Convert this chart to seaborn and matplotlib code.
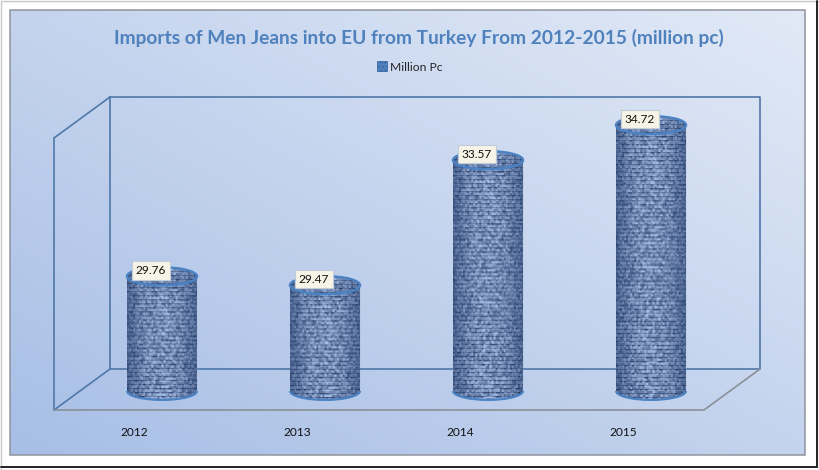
import numpy as np
import seaborn as sns
import matplotlib.pyplot as plt
from matplotlib.patches import Arc, Ellipse, Rectangle
from matplotlib.path import Path
from matplotlib.transforms import ScaledTranslation

years = ['2012', '2013', '2014', '2015']
values = [29.76, 29.47, 33.57, 34.72]
title = 'Imports of Men Jeans into EU from Turkey From 2012-2015 (million pc)'
series_name = 'Million Pc'

sns.set_theme(style='white')
plt.rcParams['font.family'] = ['Lato', 'DejaVu Sans']

W, H = 820, 470
fig = plt.figure(figsize=(W / 100, H / 100), dpi=100, facecolor='white')


def frac_box(left, top, right, bottom):
    return [left / W, 1 - bottom / H, (right - left) / W, (bottom - top) / H]


# Background panel + fake 3D walls, all in pixel coords
bg = fig.add_axes([0, 0, 1, 1], zorder=0)
bg.set_xlim(0, W)
bg.set_ylim(H, 0)
bg.axis('off')

gx, gy = np.meshgrid(np.linspace(0, 1, 200), np.linspace(0, 1, 120))
t = np.clip((gx + (1 - gy)) / 2, 0, 1)[..., None]
dark = np.array([0.655, 0.745, 0.90])
light = np.array([0.885, 0.915, 0.965])
bg.imshow(dark + (light - dark) * t, extent=(10, 805, 455, 10), aspect='auto', zorder=1)
bg.set_xlim(0, W)
bg.set_ylim(H, 0)
bg.add_patch(Rectangle((10, 10), 795, 445, fill=False, ec='#8f949c', lw=1.1, zorder=2))
bg.plot([817, 817], [1, 467], color='#222222', lw=1.4, zorder=2)
bg.plot([1, 817], [467, 467], color='#222222', lw=1.4, zorder=2)
bg.add_patch(Rectangle((0.5, 0.5), 819, 469, fill=False, ec='#c8c8c8', lw=1, zorder=1.5))

wall = '#4f78a8'
floor = '#8a9099'
bg.plot([110, 760, 760, 110, 110], [97, 97, 369, 369, 97], color=wall, lw=1.2, zorder=3)
bg.plot([54, 110], [138, 97], color=wall, lw=1.2, zorder=3)
bg.plot([54, 54], [138, 410], color=wall, lw=1.2, zorder=3)
bg.plot([54, 110], [410, 369], color=wall, lw=1.2, zorder=3)
bg.plot([54, 704, 760], [410, 410, 369], color=floor, lw=1.2, zorder=3)

# The chart itself: 4 bars on a truncated value axis
ax = fig.add_axes(frac_box(80.5, 90, 732.5, 412), zorder=1)
ax.patch.set_alpha(0)
sns.barplot(x=years, y=values, color='#4f81bd', width=0.43, label=series_name, ax=ax)
ymin, ymax = 25.31, 35.87
xmin, xmax = -0.5, 3.5
ry = 9 / 30.5
base = 26


# Woven jeans look: blocks in rows, lighter in the middle of the cylinder
def weave(nx, ny):
    jj, ii = np.meshgrid(np.arange(nx), np.arange(ny))
    ci, cj = ii // 2, jj // 2
    h = np.sin(ci * 12.9898 + cj * 78.233) * 43758.5453
    speck = h - np.floor(h)
    rows = (ii % 4 != 0) * 1.0
    cols = ((jj + 2 * (ii // 4)) % 5 != 0) * 1.0
    tone = 0.55 * speck + 0.32 * rows + 0.13 * cols
    shade = 0.42 + 0.62 * np.sin(np.linspace(0.15, np.pi - 0.15, nx))[None, :]
    tone = np.clip(tone * shade, 0, 1)[..., None]
    lo = np.array([0.10, 0.20, 0.38])
    hi = np.array([0.66, 0.75, 0.90])
    return lo + (hi - lo) * tone


for bar, val in zip(list(ax.patches), values):
    x0 = bar.get_x()
    w = bar.get_width()
    cx = x0 + w / 2
    a = np.linspace(np.pi, 2 * np.pi, 40)
    low = np.c_[cx + w / 2 * np.cos(a), base + ry * np.sin(a)]
    top = np.c_[cx + w / 2 * np.cos(a - np.pi), val + ry * np.sin(a - np.pi)]
    verts = np.r_[low, top, low[:1]]
    body = Path(verts, closed=True)
    ny = int((val - base + 2 * ry) * 30.5)
    im = ax.imshow(weave(70, ny), extent=(x0, x0 + w, base - ry, val + ry),
                   aspect='auto', interpolation='bilinear', zorder=3)
    im.set_clip_path(body, transform=ax.transData)
    bar.set_clip_path(body, transform=ax.transData)
    ax.add_patch(Ellipse((cx, val), w, 2 * ry, fill=False, ec='#4a82c4', lw=1.7, zorder=4))
    ax.add_patch(Arc((cx, base), w, 2 * ry, theta1=180, theta2=360, ec='#4a82c4', lw=1.5, zorder=4))
    ax.annotate(f'{val:.2f}', (cx, val), xytext=(-11 * 0.72, 6 * 0.72), textcoords='offset points',
                ha='center', va='center', fontsize=8.6, color='#111111', zorder=5,
                bbox=dict(boxstyle='square,pad=0.32', fc='#f6f4e6', ec='#c2ccd8', lw=0.8))

ax.set_xlim(xmin, xmax)
ax.set_ylim(ymin, ymax)
ax.set_xlabel('')
ax.set_ylabel('')
ax.set_yticks([])
sns.despine(ax=ax, left=True, bottom=True)
ax.tick_params(axis='x', length=0, pad=11, labelsize=8.6, labelcolor='#111111')
for lab in ax.get_xticklabels():
    lab.set_transform(lab.get_transform() + ScaledTranslation(-28 / 100, 0, fig.dpi_scale_trans))

fig.text(419 / W, 1 - 38 / H, title, ha='center', va='center', color='#4f81bd',
         fontsize=13.8, fontweight='bold')

handle = Rectangle((0, 0), 1, 1, fc='#4f81bd', ec='#3b6ba5', hatch='....', lw=0.6)
ax.legend([handle], [series_name], loc='center', bbox_to_anchor=(409.5 / W, 1 - 67 / H),
          bbox_transform=fig.transFigure, frameon=False, fontsize=8.7, handlelength=0.9,
          handleheight=0.9, handletextpad=0.2, borderpad=0)

fig.savefig('out.png', dpi=100)
